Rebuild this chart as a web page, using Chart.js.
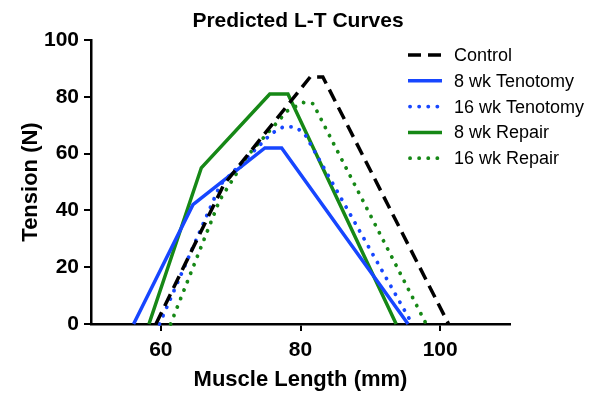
<!DOCTYPE html>
<html>
<head>
<meta charset="utf-8">
<script src="https://cdn.jsdelivr.net/npm/chart.js@4.4.1/dist/chart.umd.min.js"></script>
<style>
  html, body { margin:0; padding:0; background:#fff; }
  #wrap { width:597px; height:393px; position:relative; }
</style>
</head>
<body>
<div id="wrap"><canvas id="lt"></canvas></div>
<script>
// predicted length-tension curves
const controlX = [59.3, 69.0, 81.4, 83.2, 101.2];
const controlY = [0, 49, 87, 87, 0];
const ten8X = [56.1, 64.6, 74.9, 77.3, 95.4];
const ten8Y = [0, 42, 62, 62, 0];
const ten16X = [59.8, 68.5, 75.8, 77.6, 79.4, 80.7, 96.0];
const ten16Y = [0, 49, 67, 69.5, 69.3, 66.5, 0];
const rep8X = [58.3, 65.8, 75.6, 78.2, 93.7];
const rep8Y = [0, 55, 81, 81, 0];
const rep16X = [61.4, 68.4, 72.5, 78.1, 80.4, 81.8, 98.0];
const rep16Y = [0, 43.5, 59.5, 75, 78, 77.6, 0];

const xTicks = [60, 80, 100];
const labels = ['Control', '8 wk Tenotomy', '16 wk Tenotomy', '8 wk Repair', '16 wk Repair'];

const BLUE = '#1746FF';
const GREEN = '#168816';

const pts = (xs, ys) => xs.map((x, i) => ({ x, y: ys[i] }));

function line(label, xs, ys, color, dash){
  const dotted = dash.length && dash[0] < 1;
  return {
    label, data: pts(xs, ys),
    borderColor: color, backgroundColor: color,
    borderWidth: dotted ? 3.8 : 3.5, borderDash: dash,
    borderCapStyle: dotted ? 'round' : 'butt',
    borderJoinStyle: 'miter',
    pointRadius: 0, tension: 0, fill: false
  };
}

// legend drawn inside the plot, top right
const insideLegend = {
  id: 'insideLegend',
  afterDraw(chart){
    const ctx = chart.ctx;
    ctx.save();
    chart.data.datasets.forEach((ds, i) => {
      const y = 55 + i * 25.8;
      ctx.beginPath();
      ctx.strokeStyle = ds.borderColor;
      ctx.lineWidth = ds.borderWidth;
      ctx.lineCap = ds.borderCapStyle;
      ctx.setLineDash(ds.borderDash);
      ctx.moveTo(ds.borderDash[0] < 1 ? 410 : 408, y);
      ctx.lineTo(442, y);
      ctx.stroke();
      ctx.setLineDash([]);
      ctx.fillStyle = '#000';
      ctx.font = '18px "Liberation Sans", Arial, sans-serif';
      ctx.textBaseline = 'middle';
      ctx.fillText(ds.label, 454, y + 1);
    });
    ctx.font = 'bold 21px "Liberation Sans", Arial, sans-serif';
    ctx.textAlign = 'center';
    ctx.textBaseline = 'middle';
    ctx.fillText('Predicted L-T Curves', 298, 21);
    ctx.restore();
  }
};

new Chart(document.getElementById('lt'), {
  type: 'line',
  data: {
    datasets: [
      line(labels[0], controlX, controlY, '#000', [13, 7]),
      line(labels[1], ten8X, ten8Y, BLUE, []),
      line(labels[2], ten16X, ten16Y, BLUE, [0.1, 9]),
      line(labels[3], rep8X, rep8Y, GREEN, []),
      line(labels[4], rep16X, rep16Y, GREEN, [0.1, 9])
    ]
  },
  options: {
    responsive: true,
    maintainAspectRatio: false,
    animation: false,
    layout: { padding: { left: 0, top: 40, right: 87, bottom: 0 } },
    plugins: { legend: { display:false }, tooltip: { enabled:false }, title: { display:false } },
    datasets: { line: { clip: false } },
    scales: {
      x: {
        type: 'linear', min: 50, max: 110,
        afterBuildTicks: s => { s.ticks = xTicks.map(v => ({ value: v })); },
        afterFit: s => { s.height = 69; },
        grid: { drawOnChartArea:false, color:'#000', lineWidth:2, tickLength:7 },
        border: { color:'#000', width:2.5 },
        ticks: { color:'#000', padding:7, font: { family:'"Liberation Sans", Arial', size:21, weight:'bold' } },
        title: { display:true, text:'Muscle Length (mm)', color:'#000', padding: { top:0, bottom:0 },
                 font: { family:'"Liberation Sans", Arial', size:22, weight:'bold' } }
      },
      y: {
        min: 0, max: 100,
        ticks: { stepSize: 20, color:'#000', padding:5, font: { family:'"Liberation Sans", Arial', size:21, weight:'bold' } },
        afterFit: s => { s.width = 91; },
        grid: { drawOnChartArea:false, color:'#000', lineWidth:2, tickLength:7 },
        border: { color:'#000', width:2.5 },
        title: { display:true, text:'Tension (N)', color:'#000', padding: { top:18, bottom:0 },
                 font: { family:'"Liberation Sans", Arial', size:22, weight:'bold' } }
      }
    }
  },
  plugins: [insideLegend]
});
</script>
</body>
</html>
